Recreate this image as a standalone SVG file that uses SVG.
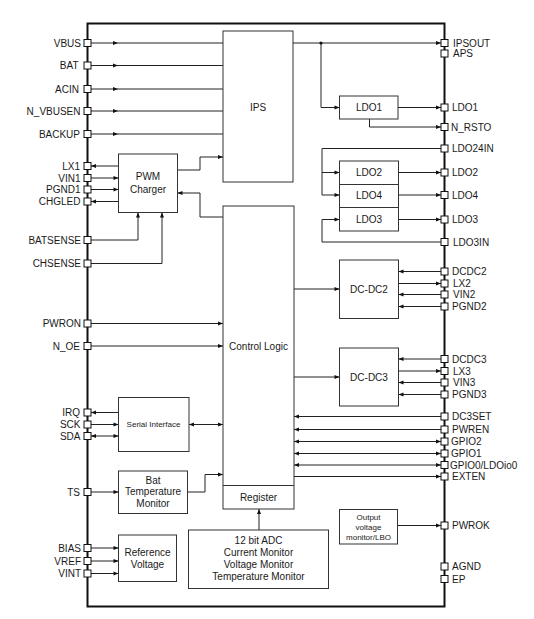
<svg xmlns="http://www.w3.org/2000/svg" width="534" height="619" viewBox="0 0 534 619">
<style>
text{font-family:"Liberation Sans",Arial,sans-serif;font-size:10px;fill:#1a1a1a}
.l{text-anchor:end}
.c{text-anchor:middle}
.s{font-size:8px}
.box{fill:#fff;stroke:#333;stroke-width:1}
.pin{fill:#fff;stroke:#111;stroke-width:1}
#conn path{fill:none;stroke:#222;stroke-width:1}
.e{marker-end:url(#a)}
.m{marker-mid:url(#a)}
.b{marker-start:url(#a);marker-end:url(#a)}
</style>
<defs>
<marker id="a" viewBox="0 0 10 10" refX="10" refY="5" markerWidth="6" markerHeight="5" orient="auto-start-reverse" markerUnits="userSpaceOnUse"><path d="M0,1 L10,5 L0,9 z" fill="#111"/></marker>
</defs>
<rect width="534" height="619" fill="#fff"/>
<rect id="chip" x="87.5" y="23.5" width="357" height="583" fill="none" stroke="#111" stroke-width="2"/>

<g id="conn">
<path class="m" d="M91,43 H118 H223"/>
<path class="m" d="M91,65.5 H118 H223"/>
<path class="m" d="M91,89 H118 H223"/>
<path class="m" d="M91,111 H118 H223"/>
<path class="m" d="M91,134 H118 H223"/>
<path class="e" d="M118.5,166 H91"/>
<path class="e" d="M91,178 H118.5"/>
<path class="e" d="M91,189.5 H118.5"/>
<path class="e" d="M118.5,201.5 H91"/>
<path class="e" d="M91,240 H138 V212.5"/>
<path class="e" d="M91,263.5 H162 V212.5"/>
<path class="e" d="M177.5,170 H200 V157 H223"/>
<path class="e" d="M223,217 H200 V193 H177.5"/>
<path class="e" d="M91,323.5 H223"/>
<path class="e" d="M91,346 H223"/>
<path class="e" d="M118.5,412.5 H91"/>
<path class="e" d="M91,424.5 H118.5"/>
<path class="b" d="M91,436 H118.5"/>
<path class="b" d="M189,424.5 H223"/>
<path class="e" d="M91,492 H118.5"/>
<path class="e" d="M187.5,492 H205 V474.5 H223"/>
<path class="e" d="M91,548 H118.5"/>
<path class="e" d="M91,561 H118.5"/>
<path class="e" d="M91,573.5 H118.5"/>
<path class="e" d="M259,530 V509"/>
<path class="e" d="M293,43 H441"/>
<path class="e" d="M321,43 V107.5 H339.5"/>
<path class="e" d="M398,107.5 H441"/>
<path class="e" d="M369.5,119 V127 H441"/>
<path class="e" d="M441,148.5 H322 V195 H339.5"/>
<path class="e" d="M322,172.5 H339.5"/>
<path class="e" d="M398.5,172.5 H441"/>
<path class="e" d="M398.5,195 H441"/>
<path class="e" d="M398.5,219.5 H441"/>
<path class="e" d="M441,242 H322 V219.5 H339.5"/>
<path class="e" d="M441,271.5 H398.5"/>
<path class="e" d="M398.5,283.5 H441"/>
<path class="e" d="M441,294.5 H398.5"/>
<path class="e" d="M441,306.5 H398.5"/>
<path class="e" d="M294,289 H339.5"/>
<path class="e" d="M441,359 H398.5"/>
<path class="e" d="M398.5,371 H441"/>
<path class="e" d="M441,382.5 H398.5"/>
<path class="e" d="M441,394.5 H398.5"/>
<path class="e" d="M294,377 H339.5"/>
<path class="e" d="M441,416.5 H294"/>
<path class="e" d="M441,429.5 H294"/>
<path class="b" d="M294,441.5 H441"/>
<path class="b" d="M294,453.5 H441"/>
<path class="b" d="M294,465 H441"/>
<path class="e" d="M294,476.5 H441"/>
<path class="e" d="M398,525.5 H441"/>
<circle cx="321" cy="43" r="1.6" fill="#111"/>
</g>

<g id="ips"><rect class="box" x="223" y="31" width="70" height="151"/><text class="c" x="258" y="110.5">IPS</text></g>
<g id="control"><rect class="box" x="223" y="206" width="71" height="303"/><line x1="223" y1="485.5" x2="294" y2="485.5" stroke="#333"/><text class="c" x="258.5" y="349.5">Control Logic</text><text class="c" x="258.5" y="501">Register</text></g>
<g id="pwm"><rect class="box" x="118.5" y="154" width="59" height="58.5"/><text class="c" x="148" y="180">PWM</text><text class="c" x="148" y="192.5">Charger</text></g>
<g id="ldo1"><rect class="box" x="339.5" y="96" width="58.5" height="23"/><text class="c" x="369" y="111">LDO1</text></g>
<g id="ldo2"><rect class="box" x="339.5" y="161" width="59" height="23.5"/><text class="c" x="369" y="176">LDO2</text></g>
<g id="ldo4"><rect class="box" x="339.5" y="184.5" width="59" height="23"/><text class="c" x="369" y="198.5">LDO4</text></g>
<g id="ldo3"><rect class="box" x="339.5" y="207.5" width="59" height="23.5"/><text class="c" x="369" y="223">LDO3</text></g>
<g id="dcdc2"><rect class="box" x="339.5" y="260" width="59" height="58.5"/><text class="c" x="369" y="292.5">DC-DC2</text></g>
<g id="dcdc3"><rect class="box" x="339.5" y="348" width="59" height="58"/><text class="c" x="369" y="380.5">DC-DC3</text></g>
<g id="serial"><rect class="box" x="118.5" y="397.5" width="70.5" height="54"/><text class="c s" x="153.5" y="427">Serial Interface</text></g>
<g id="battemp"><rect class="box" x="118.5" y="471" width="69" height="42.5"/><text class="c" x="153" y="483.5">Bat</text><text class="c" x="153" y="495.2">Temperature</text><text class="c" x="153" y="506.8">Monitor</text></g>
<g id="refv"><rect class="box" x="118.5" y="535" width="58" height="46.5"/><text class="c" x="147.5" y="556">Reference</text><text class="c" x="147.5" y="567.8">Voltage</text></g>
<g id="adc"><rect class="box" x="188.5" y="530" width="140" height="58.5"/><text class="c" x="258.5" y="544.2">12 bit ADC</text><text class="c" x="258.5" y="556.2">Current Monitor</text><text class="c" x="258.5" y="568.2">Voltage Monitor</text><text class="c" x="258.5" y="580.2">Temperature Monitor</text></g>
<g id="outmon"><rect class="box" x="339.5" y="509.5" width="58" height="34.5"/><text class="c s" x="368.5" y="520">Output</text><text class="c s" x="368.5" y="529.7">voltage</text><text class="c s" x="368.5" y="539.5">monitor/LBO</text></g>

<g id="leftpins">
<rect class="pin" x="84" y="39.5" width="7" height="7"/><text class="l" x="81" y="46.5">VBUS</text>
<rect class="pin" x="84" y="62" width="7" height="7"/><text class="l" x="78.5" y="69">BAT</text>
<rect class="pin" x="84" y="85.5" width="7" height="7"/><text class="l" x="79" y="92.5">ACIN</text>
<rect class="pin" x="84" y="107.5" width="7" height="7"/><text class="l" x="80.5" y="114.5">N_VBUSEN</text>
<rect class="pin" x="84" y="130.5" width="7" height="7"/><text class="l" x="80" y="137.5">BACKUP</text>
<rect class="pin" x="84" y="162.5" width="7" height="7"/><text class="l" x="80" y="169.5">LX1</text>
<rect class="pin" x="84" y="174.5" width="7" height="7"/><text class="l" x="80.5" y="181.5">VIN1</text>
<rect class="pin" x="84" y="186" width="7" height="7"/><text class="l" x="80.5" y="193">PGND1</text>
<rect class="pin" x="84" y="198" width="7" height="7"/><text class="l" x="80.5" y="205">CHGLED</text>
<rect class="pin" x="84" y="236.5" width="7" height="7"/><text class="l" x="81" y="243.5">BATSENSE</text>
<rect class="pin" x="84" y="260" width="7" height="7"/><text class="l" x="81" y="267">CHSENSE</text>
<rect class="pin" x="84" y="320" width="7" height="7"/><text class="l" x="81" y="327">PWRON</text>
<rect class="pin" x="84" y="342.5" width="7" height="7"/><text class="l" x="80" y="349.5">N_OE</text>
<rect class="pin" x="84" y="409" width="7" height="7"/><text class="l" x="80" y="416">IRQ</text>
<rect class="pin" x="84" y="421" width="7" height="7"/><text class="l" x="80.5" y="428">SCK</text>
<rect class="pin" x="84" y="432.5" width="7" height="7"/><text class="l" x="80.5" y="439.5">SDA</text>
<rect class="pin" x="84" y="488.5" width="7" height="7"/><text class="l" x="80" y="495.5">TS</text>
<rect class="pin" x="84" y="544.5" width="7" height="7"/><text class="l" x="81" y="551.5">BIAS</text>
<rect class="pin" x="84" y="557.5" width="7" height="7"/><text class="l" x="81" y="564.5">VREF</text>
<rect class="pin" x="84" y="570" width="7" height="7"/><text class="l" x="81" y="577">VINT</text>
</g>

<g id="rightpins">
<rect class="pin" x="441" y="39.5" width="7" height="7"/><text x="453" y="46.5">IPSOUT</text>
<rect class="pin" x="441" y="50" width="7" height="7"/><text x="453" y="57">APS</text>
<rect class="pin" x="441" y="104" width="7" height="7"/><text x="452" y="111">LDO1</text>
<rect class="pin" x="441" y="123.5" width="7" height="7"/><text x="451" y="130.5">N_RSTO</text>
<rect class="pin" x="441" y="145" width="7" height="7"/><text x="452" y="152">LDO24IN</text>
<rect class="pin" x="441" y="169" width="7" height="7"/><text x="452" y="176">LDO2</text>
<rect class="pin" x="441" y="191.5" width="7" height="7"/><text x="452" y="198.5">LDO4</text>
<rect class="pin" x="441" y="216" width="7" height="7"/><text x="452" y="223">LDO3</text>
<rect class="pin" x="441" y="238.5" width="7" height="7"/><text x="453" y="245.5">LDO3IN</text>
<rect class="pin" x="441" y="268" width="7" height="7"/><text x="452" y="275">DCDC2</text>
<rect class="pin" x="441" y="280" width="7" height="7"/><text x="453" y="287">LX2</text>
<rect class="pin" x="441" y="291" width="7" height="7"/><text x="453" y="298">VIN2</text>
<rect class="pin" x="441" y="303" width="7" height="7"/><text x="452" y="310">PGND2</text>
<rect class="pin" x="441" y="355.5" width="7" height="7"/><text x="452" y="362.5">DCDC3</text>
<rect class="pin" x="441" y="367.5" width="7" height="7"/><text x="453" y="374.5">LX3</text>
<rect class="pin" x="441" y="379" width="7" height="7"/><text x="453" y="386">VIN3</text>
<rect class="pin" x="441" y="391" width="7" height="7"/><text x="452" y="398">PGND3</text>
<rect class="pin" x="441" y="413" width="7" height="7"/><text x="452" y="420">DC3SET</text>
<rect class="pin" x="441" y="426" width="7" height="7"/><text x="452" y="433">PWREN</text>
<rect class="pin" x="441" y="438" width="7" height="7"/><text x="451" y="445">GPIO2</text>
<rect class="pin" x="441" y="450" width="7" height="7"/><text x="451" y="457">GPIO1</text>
<rect class="pin" x="441" y="461.5" width="7" height="7"/><text x="450" y="468.5">GPIO0/LDOio0</text>
<rect class="pin" x="441" y="473" width="7" height="7"/><text x="452" y="480">EXTEN</text>
<rect class="pin" x="441" y="522" width="7" height="7"/><text x="452" y="529">PWROK</text>
<rect class="pin" x="441" y="563" width="7" height="7"/><text x="452" y="570">AGND</text>
<rect class="pin" x="441" y="575.5" width="7" height="7"/><text x="452" y="582.5">EP</text>
</g>
</svg>
